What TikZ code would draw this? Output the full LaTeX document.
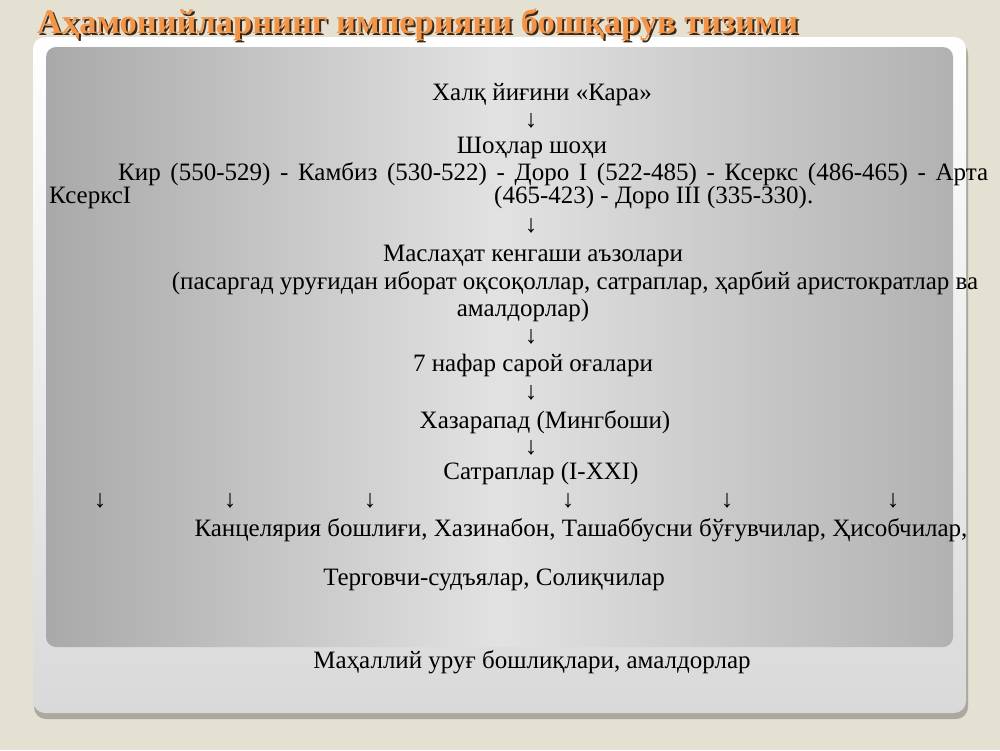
\documentclass[tikz,border=0pt]{standalone}
\usepackage{fontspec}
\setmainfont{Liberation Serif}
\definecolor{slidebg}{HTML}{E4E0D2}
\definecolor{panelshadow}{HTML}{ABA99E}
\definecolor{panelgray}{HTML}{D9D9D9}
\definecolor{boxdark}{HTML}{A9A9A9}
\definecolor{boxlight}{HTML}{E2E2E2}
\definecolor{titleorange}{HTML}{F39447}
\definecolor{titleshadow}{HTML}{3A2818}
\begin{document}
\begin{tikzpicture}[x=1pt,y=-1pt]
    \tikzset{line/.style = {font=\fontsize{25}{29}\selectfont, inner sep=0pt, anchor=base}}
    \tikzset{down/.style = {line}}
    \tikzset{heading/.style = {font=\fontsize{34.5}{38}\selectfont\bfseries, inner sep=0pt, anchor=base west}}
    % slide background and panels
    \fill[slidebg] (0,0) rectangle (1000,750);
    \useasboundingbox (0,0) rectangle (1000,750);
    \fill[panelshadow, rounded corners=12pt] (34,42) rectangle (968,719);
    \shade[top color=white, bottom color=panelgray, rounded corners=12pt] (33,37) rectangle (966,713);
    \shade[left color=boxdark, right color=boxdark!90!white, middle color=boxlight, rounded corners=10pt] (46,47) rectangle (953,647);
    % title with its shadow
    \node[heading, text=titleshadow] (titleshade) at (39,35.5) {Аҳамонийларнинг империяни бошқарув тизими};
    \node[heading, text=titleorange] (title) at (37,33.5) {Аҳамонийларнинг империяни бошқарув тизими};
    % top of the scheme
    \node[line] (halq) at (542,100) {Халқ йиғини «Кара»};
    \node[down] (d1) at (531,127) {↓};
    \node[line] (shoh) at (532,153) {Шоҳлар шоҳи};
    \node[line, anchor=base west] (kings) at (118,180) {\makebox[870pt][s]{Кир (550-529) - Камбиз (530-522) - Доро I (522-485) - Ксеркс (486-465) - Арта}};
    \node[line, anchor=base west] (kserks) at (49,203) {КсерксI};
    \node[line, anchor=base west] (kings2) at (494,203) {(465-423) - Доро III (335-330).};
    \node[down] (d2) at (531,232) {↓};
    % council
    \node[line] (council) at (533,261) {Маслаҳат кенгаши аъзолари};
    \node[line] (council2) at (575,289) {(пасаргад уруғидан иборат оқсоқоллар, сатраплар, ҳарбий аристократлар ва};
    \node[line] (council3) at (523,316) {амалдорлар)};
    \node[down] (d3) at (531,343) {↓};
    \node[line] (court) at (533,371) {7 нафар сарой оғалари};
    \node[down] (d4) at (531,399) {↓};
    \node[line] (hazar) at (545,428) {Хазарапад (Мингбоши)};
    \node[down] (d5) at (531,454) {↓};
    \node[line] (satrap) at (541,479) {Сатраплар (I-XXI)};
    % arrows to the officials
    \foreach \x/\n in {100/a, 230/b, 370/c, 568/d, 727/e, 893/f}
        \node[down] (o\n) at (\x,507) {↓};
    \node[line] (office) at (581,536) {Канцелярия бошлиғи, Хазинабон, Ташаббусни бўғувчилар, Ҳисобчилар,};
    \node[line] (judges) at (494,585) {Терговчи-судъялар, Солиқчилар};
    \node[line] (local) at (532,668) {Маҳаллий уруғ бошлиқлари, амалдорлар};
\end{tikzpicture}
\end{document}
